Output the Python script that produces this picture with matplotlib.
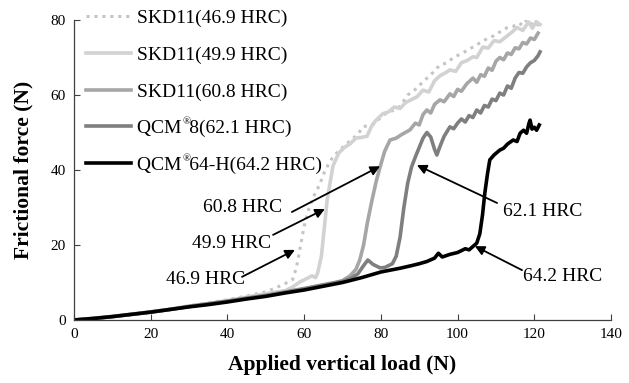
import matplotlib
matplotlib.use("Agg")
from matplotlib import pyplot as plt

plt.rcParams['font.family'] = ['Liberation Serif', 'DejaVu Serif']

#-------data-------
x_469 = [0, 5, 10, 15, 20, 25, 30, 35, 40, 45, 50, 52, 54, 56, 57, 58, 59, 60, 61, 62.5, 64, 65.5, 67.5,
         70, 72, 74, 75.3, 78, 80, 81.5, 83, 85, 87, 89, 91, 93.6, 95.4, 97, 99, 100.5, 102.4, 104, 106,
         108, 109.5, 111, 113, 114.5, 116, 117, 118, 119, 120, 121.5]
y_469 = [0, 0.5, 1.0, 1.6, 2.3, 3.0, 3.8, 4.6, 5.4, 6.4, 7.5, 8.3, 9.2, 10.2, 10.8, 14, 19.5, 25, 29, 33, 36, 40, 43.5,
         46, 47.8, 49.5, 51.5, 52.2, 54, 55.2, 55.8, 57, 60, 61.5, 63.5, 66, 68, 68.5, 70, 70.8, 71.8, 72.8, 74,
         75.2, 75.8, 76.8, 78, 78.3, 79.2, 78.6, 80, 78.8, 79.5, 78.2]

x_499 = [0, 5, 10, 15, 20, 25, 30, 35, 40, 45, 50, 55, 57, 59, 61, 62, 63, 63.5, 64.5, 65.3, 66, 67.5, 69,
         70.5, 72, 73.5, 75, 76.4, 77.5, 78.5, 80.5, 82, 83.5, 85, 86.5, 88, 89.4, 91, 92.5, 94, 95.5, 97,
         98, 99.5, 101, 102.5, 104, 105, 106.6, 108, 109.5, 111, 113, 114, 115.5, 117, 118.5, 119.5, 120.5, 121.5]
y_499 = [0, 0.5, 1.0, 1.6, 2.2, 2.9, 3.7, 4.4, 5.2, 6.1, 7.0, 7.8, 8.8, 10.2, 11.2, 11.8, 11.3, 12.5, 17, 25, 32, 41, 44.5,
         46, 47, 48.5, 48.7, 49, 51.5, 53, 55, 55.5, 56.8, 56.4, 58, 58.8, 59.5, 61.3, 60.8, 63.8, 65.2, 66,
         66.7, 66.3, 68.6, 69.2, 70.2, 70.0, 72.8, 72.5, 74.5, 74.2, 75.8, 76.6, 78, 77.2, 79.5, 77.8, 79.6, 78.8]

x_608 = [0, 5, 10, 15, 20, 25, 30, 35, 40, 45, 50, 55, 60, 65, 68, 70, 72, 73.5, 74.5, 75.5, 76.5, 77.7,
         78.8, 79.8, 81, 82.4, 84, 85.5, 87.6, 89, 90, 91, 92, 93, 94, 95.4, 96.5, 98, 99, 100, 101, 102.4,
         104, 105, 106, 107, 108, 109, 110, 111, 112, 113, 114, 115, 116, 117, 118, 119, 120, 121]
y_608 = [0, 0.4, 0.9, 1.5, 2.1, 2.8, 3.6, 4.3, 5.0, 5.8, 6.6, 7.5, 8.4, 9.4, 10.0, 10.5, 11.8, 13.5, 16, 20, 26, 32,
         37, 40.8, 45, 48, 48.5, 49.5, 50.7, 52.5, 52.0, 54.8, 56, 55.2, 57.5, 58.7, 58.2, 60.3, 59.6, 61.5, 61.0, 63,
         64.5, 63.4, 65.4, 65.0, 67.2, 66.6, 69, 70, 69.4, 71.2, 70.8, 72.6, 72.3, 74, 73.6, 75.2, 74.8, 76.5]

x_621 = [0, 5, 10, 15, 20, 25, 30, 35, 40, 45, 50, 55, 60, 65, 70, 72, 74, 75.5, 76.6, 78, 79.8, 81, 83, 84,
         85, 86, 87, 88, 89, 90, 91, 92, 93, 94, 94.6, 95.5, 96.5, 98, 99, 100, 101, 102, 103, 104, 105, 106,
         107, 108, 109, 110, 111, 112, 113, 114, 115, 116, 117, 118, 119, 120, 121, 121.5]
y_621 = [0, 0.4, 0.9, 1.5, 2.1, 2.8, 3.6, 4.3, 5.0, 5.8, 6.5, 7.4, 8.3, 9.3, 10.3, 11.0, 12.3, 14.5, 16.0, 14.8, 13.9, 14.0, 15.0, 17,
         22, 30, 36.5, 40.8, 43.5, 46, 48.5, 50, 48.8, 45.5, 44, 46.5, 49, 51.5, 51, 52.5, 53.6, 52.8, 54.5, 54.0, 56, 55.2,
         57.2, 56.8, 58.9, 58.5, 60.5, 60.0, 62.4, 61.8, 64.5, 66, 65.8, 67.5, 68.6, 69.2, 70.5, 71.5]

x_642 = [0, 5, 10, 15, 20, 25, 30, 35, 40, 45, 50, 55, 60, 65, 70, 75, 80, 85, 88, 90, 92, 94, 95, 96, 98,
         100, 102, 103, 104, 105, 105.8, 106.5, 107.1, 107.8, 108.4, 109.5, 111, 112, 113, 114.5, 115.5, 116.3,
         117.2, 118, 118.6, 118.9, 119.4, 120, 120.6, 121.3]
y_642 = [0, 0.4, 0.9, 1.5, 2.1, 2.8, 3.5, 4.1, 4.8, 5.6, 6.3, 7.2, 8.0, 9.0, 10.0, 11.3, 12.8, 13.8, 14.5, 15.0, 15.6, 16.5, 17.8, 16.8, 17.5,
         18.0, 19.0, 18.7, 19.6, 20.5, 23, 28, 33.8, 39, 42.7, 44, 45.3, 45.8, 46.9, 48, 47.6, 49.8,
         50.6, 49.8, 52.4, 53.3, 50.9, 51.4, 50.6, 52]

# the small (R) mark of the QCM grades is drawn on top afterwards, in the gap left here
labels = ['SKD11(46.9 HRC)', 'SKD11(49.9 HRC)', 'SKD11(60.8 HRC)',
          'QCM\u2009\u20098(62.1 HRC)', 'QCM\u2009\u200964-H(64.2 HRC)']

fig = plt.figure(figsize=(6.29, 3.83), dpi=100)
ax = fig.add_axes([0.1176, 0.1645, 0.8538, 0.7833])

ax.plot(x_469, y_469, color='#c4c4c4', lw=2.2, ls=(0, (1, 1.6)), label=labels[0])
ax.plot(x_499, y_499, color='#d2d2d2', lw=2.6, label=labels[1])
ax.plot(x_608, y_608, color='#a6a6a6', lw=2.6, label=labels[2])
ax.plot(x_621, y_621, color='#7f7f7f', lw=2.6, label=labels[3])
ax.plot(x_642, y_642, color='black', lw=2.6, label=labels[4])

ax.set_xlim(0, 140)
ax.set_ylim(0, 80)
ax.set_xticks(range(0, 141, 20))
ax.set_yticks(range(0, 81, 20))
ax.tick_params(direction='in', length=4, width=0.8, color='#404040', labelsize=11, pad=6)
for s in ['top', 'right']:
    ax.spines[s].set_visible(False)
for s in ['left', 'bottom']:
    ax.spines[s].set_color('#404040')
    ax.spines[s].set_linewidth(0.9)

ax.set_xlabel('Applied vertical load (N)', fontsize=15.5, fontweight='bold', labelpad=10)
ax.set_ylabel('Frictional force (N)', fontsize=15.5, fontweight='bold', labelpad=12)

leg = ax.legend(loc='upper left', bbox_to_anchor=(0.022, 1.035), frameon=False, fontsize=14,
                handlelength=2.3, handletextpad=0.35, labelspacing=0.98, borderpad=0, borderaxespad=0)

# callouts
notes = [('60.8 HRC', (44, 30.0), (56.8, 28.8), (79.8, 41.0)),
         ('49.9 HRC', (41.2, 20.4), (51.9, 22.7), (65.4, 29.6)),
         ('46.9 HRC', (34.2, 10.8), (43.8, 11.5), (57.6, 18.7)),
         ('62.1 HRC', (122.3, 28.8), (110.3, 31.2), (89.4, 41.3)),
         ('64.2 HRC', (127.5, 11.7), (116.8, 13.3), (104.5, 19.7))]
for txt, tpos, start, tip in notes:
    ax.text(tpos[0], tpos[1], txt, fontsize=14, ha='center', va='center')
    ax.annotate('', xy=tip, xytext=start,
                arrowprops=dict(arrowstyle='-|>', color='black', lw=1.3, mutation_scale=14,
                                shrinkA=0, shrinkB=0))

# registered mark as a small superscript after "QCM"
fig.canvas.draw()
r = fig.canvas.get_renderer()
W, H = fig.canvas.get_width_height()
tmp = fig.text(0, 0, 'QCM', fontsize=14)
w_qcm = tmp.get_window_extent(r).width
tmp.remove()
for t in leg.get_texts()[3:]:
    bb = t.get_window_extent(r)
    fig.text((bb.x0 + w_qcm + 0.5) / W, (bb.y1 + 2.5) / H, '\u00ae', fontsize=7.5,
             ha='left', va='top')

plt.savefig('out.png', dpi=100)
plt.close()
